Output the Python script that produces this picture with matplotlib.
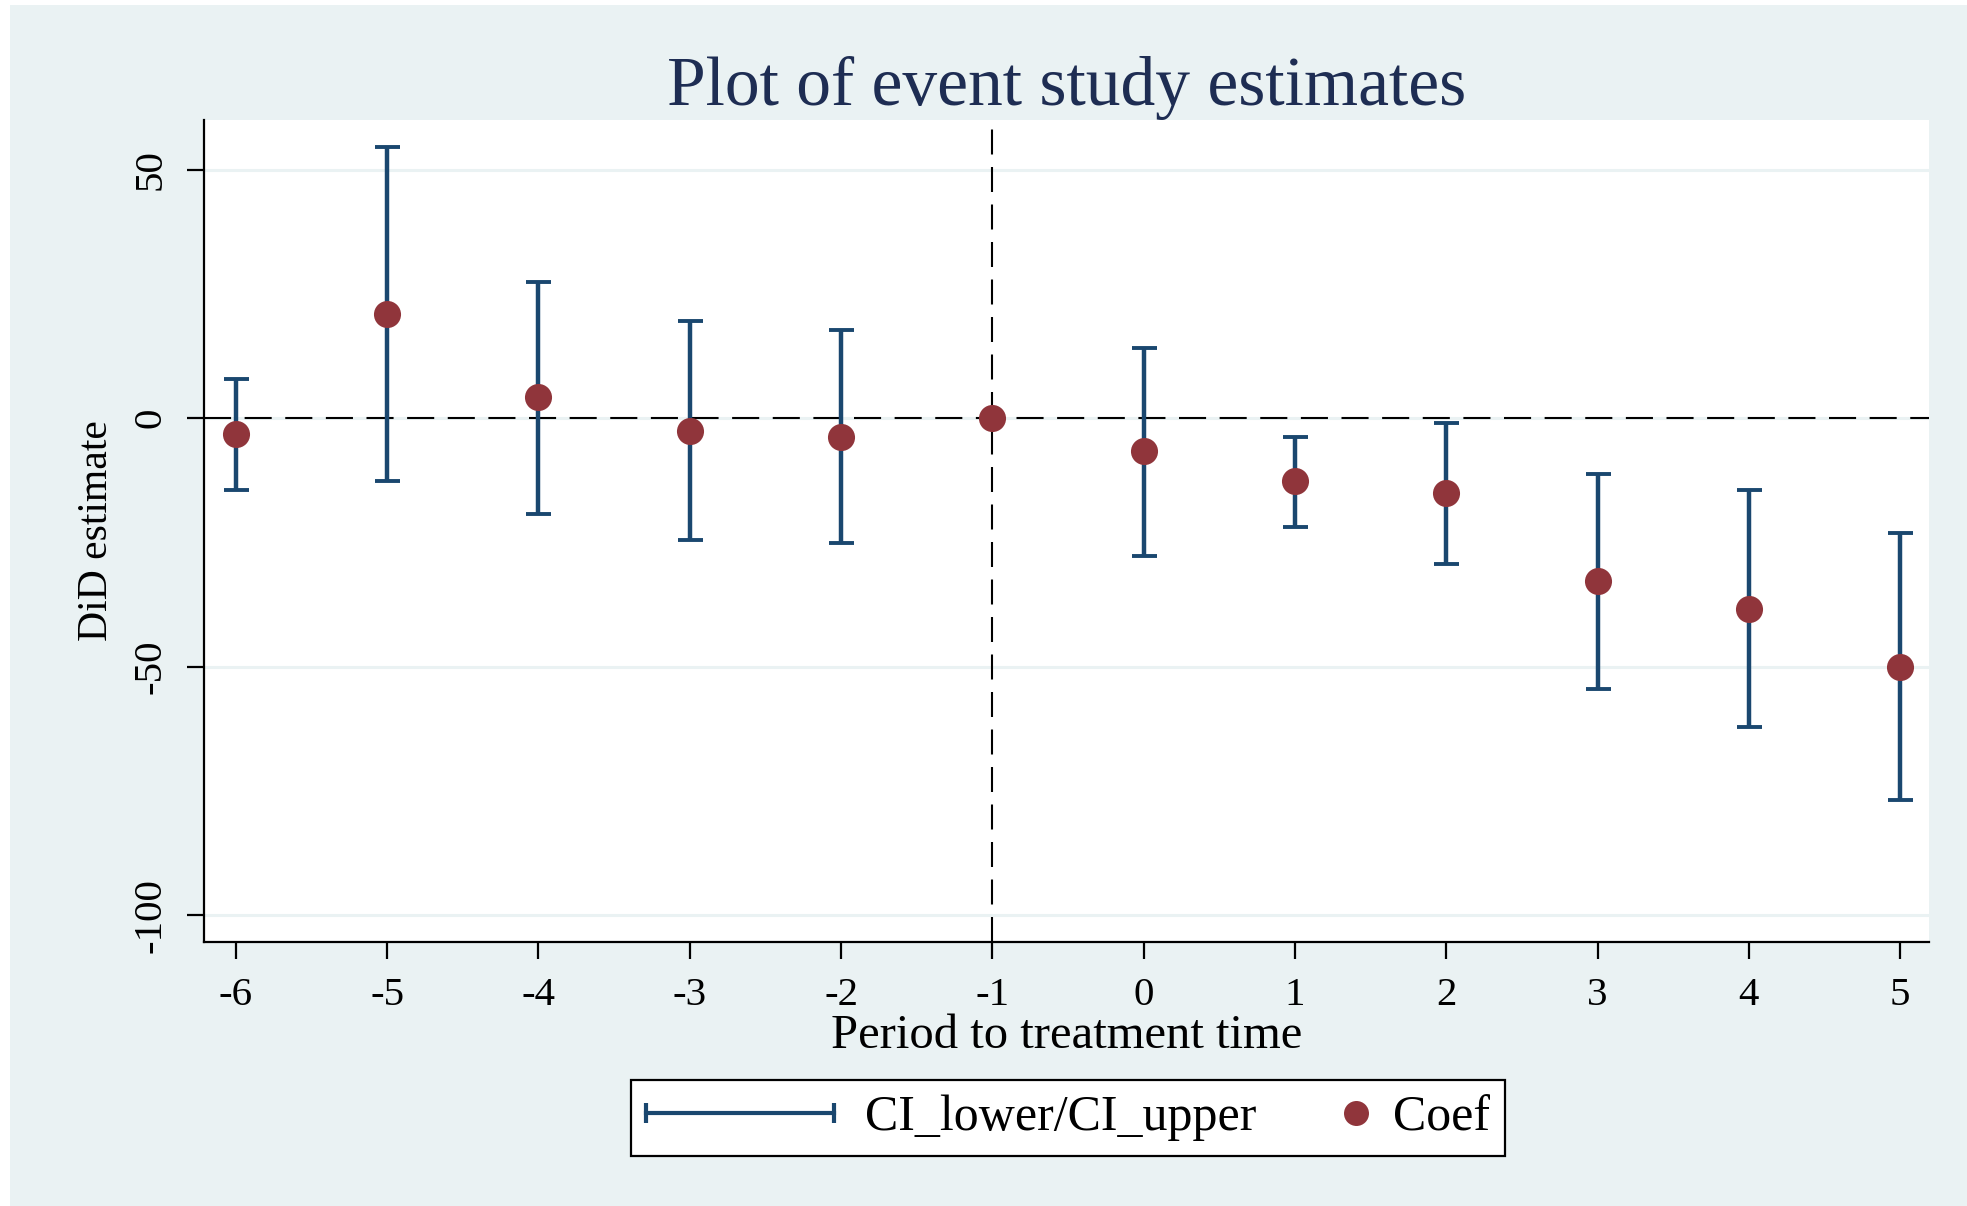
import matplotlib
matplotlib.use("Agg")
import matplotlib.pyplot as plt
from matplotlib.lines import Line2D
from matplotlib.patches import Rectangle
from matplotlib.legend_handler import HandlerLine2D

# ---- data ----
periods = [-6, -5, -4, -3, -2, -1, 0, 1, 2, 3, 4, 5]
coef = [-3.2, 21.0, 4.2, -2.5, -3.7, 0.0, -6.7, -12.7, -15.1, -32.8, -38.3, -50.0]
ci_lower = [-14.5, -12.6, -19.3, -24.6, -25.2, None, -27.7, -21.8, -29.3, -54.4, -62.2, -76.9]
ci_upper = [7.9, 54.6, 27.5, 19.5, 17.8, None, 14.2, -3.7, -1.0, -11.2, -14.5, -23.1]
yticks = [50, 0, -50, -100]
ytick_labels = ["50", "0", "-50", "-100"]
title = "Plot of event study estimates"
xlabel = "Period to treatment time"
ylabel = "DiD estimate"
legend_labels = ["CI_lower/CI_upper", "Coef"]

# ---- style ----
BG = "#eaf2f3"
NAVY = "#1a476f"
MAROON = "#90353b"
TITLE_C = "#1e2d53"
FONT = "Liberation Serif"
plt.rcParams["font.family"] = [FONT, "DejaVu Serif"]

W, H = 1967, 1206
fig = plt.figure(figsize=(W / 100, H / 100), dpi=100, facecolor="white")
fig.patches.append(Rectangle((10 / W, 0), 1, 1 - 5 / H, transform=fig.transFigure,
                             facecolor=BG, edgecolor="none", zorder=-10))

ax = fig.add_axes([204 / W, 1 - 942 / H, (1929 - 204) / W, (942 - 120) / H])
ax.set_facecolor("white")

# CI caps / bars
xs = [p for p, lo in zip(periods, ci_lower) if lo is not None]
lo = [l for l in ci_lower if l is not None]
hi = [u for u in ci_upper if u is not None]
mid = [(a + b) / 2 for a, b in zip(lo, hi)]
err = [[m - a for m, a in zip(mid, lo)], [b - m for m, b in zip(mid, hi)]]
ax.errorbar(xs, mid, yerr=err, fmt="none", ecolor=NAVY, elinewidth=3.2,
            capsize=9, capthick=2.8, zorder=3)
ax.plot(periods, coef, linestyle="none", marker="o", markersize=19.5,
        color=MAROON, markeredgewidth=0, zorder=4)

ax.axhline(0, color="black", lw=1.5, linestyle=(0, (13, 6.5)), zorder=2)
ax.axvline(-1, color="black", lw=1.5, linestyle=(0, (12, 6)), zorder=2)

ax.set_xlim(-6.21, 5.19)
ax.set_ylim(-105.4, 60)
ax.set_xticks(periods)
ax.set_xticklabels([str(p) for p in periods])
ax.set_yticks(yticks)
ax.set_yticklabels(ytick_labels, rotation=90, va="center")
ax.yaxis.grid(True, color=BG, lw=2.2)
ax.set_axisbelow(True)
for s in ["top", "right"]:
    ax.spines[s].set_visible(False)
for s in ["left", "bottom"]:
    ax.spines[s].set_linewidth(1.6)
ax.tick_params(axis="both", length=12, width=1.6, labelsize=29.5, pad=13)

ax.set_xlabel(xlabel, fontsize=35, labelpad=0)
ax.set_ylabel(ylabel, fontsize=30, labelpad=12)
ax.set_title(title, fontsize=50, color=TITLE_C, pad=11)

ci_h = Line2D([], [], color=NAVY, lw=3.0, marker="|", markersize=14, markeredgewidth=3.0)
co_h = Line2D([], [], linestyle="none", marker="o", markersize=18, color=MAROON,
              markeredgewidth=0)
leg = fig.legend([ci_h, co_h], legend_labels, loc="center",
                 bbox_to_anchor=(1068 / W, 1 - 1118 / H), ncol=2, fontsize=36,
                 frameon=True, fancybox=False, edgecolor="black", facecolor="white",
                 framealpha=1, handlelength=3.76, handletextpad=0.62,
                 columnspacing=-1.64, borderpad=0.3,
                 handler_map={ci_h: HandlerLine2D(numpoints=2, marker_pad=0),
                              co_h: HandlerLine2D(numpoints=1, xpad=3.5)})
leg.get_frame().set_linewidth(1.6)

fig.savefig("out.png", dpi=100, facecolor=fig.get_facecolor())
